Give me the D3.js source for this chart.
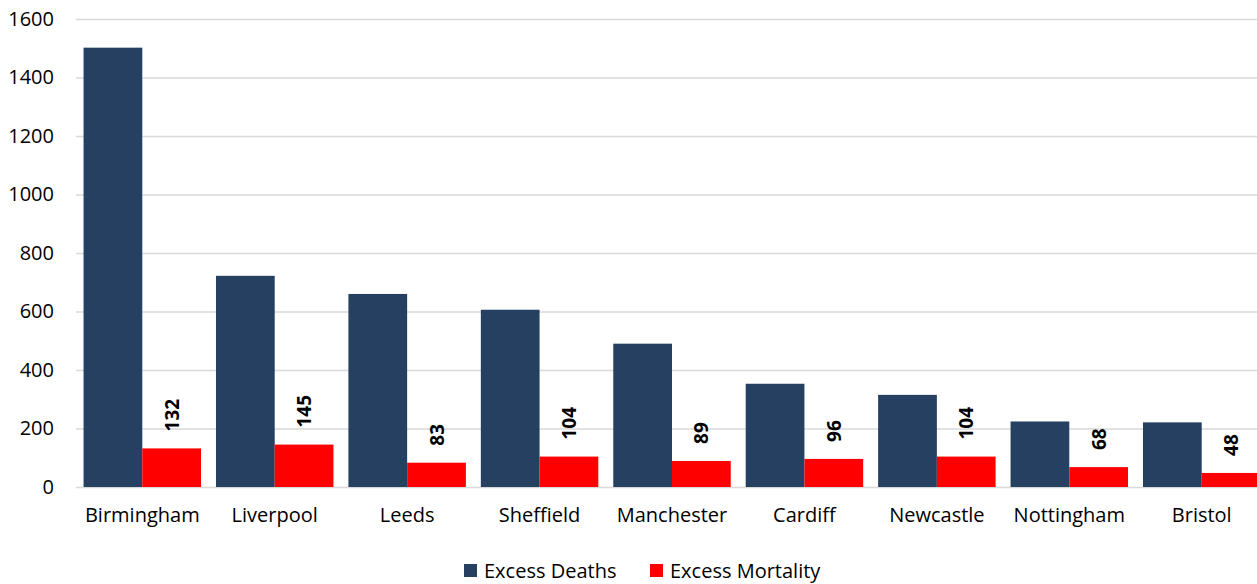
<!DOCTYPE html>
<html>
<head>
<meta charset="utf-8">
<script src="https://cdn.jsdelivr.net/npm/d3@7"></script>
<style>
  body { margin: 0; background: #fff; }
  svg text { font-family: "Open Sans", Lato, sans-serif; fill: #000; }
</style>
</head>
<body>
<div id="chart"></div>
<script>
// Data
const cities = ["Birmingham", "Liverpool", "Leeds", "Sheffield", "Manchester", "Cardiff", "Newcastle", "Nottingham", "Bristol"];
const excessDeaths = [1502, 722, 660, 606, 490, 353, 315, 224, 221];
const excessMortality = [132, 145, 83, 104, 89, 96, 104, 68, 48];
const yTicks = [0, 200, 400, 600, 800, 1000, 1200, 1400, 1600];
const seriesNames = ["Excess Deaths", "Excess Mortality"];
const seriesColors = ["#264061", "#ff0000"];

const width = 1257, height = 584;
const margin = {top: 19, right: -11, bottom: 97, left: 76};
const fontSize = "20px";

const svg = d3.select("#chart")
  .append("svg")
    .attr("width", width)
    .attr("height", height);

const xScale = d3.scaleBand()
  .domain(cities)
  .range([margin.left, width - margin.right])
  .paddingInner(0.113)
  .paddingOuter(0.057);

const sub = d3.scaleBand()
  .domain(seriesNames)
  .range([0, xScale.bandwidth()]);

const yScale = d3.scaleLinear()
  .domain([0, 1600])
  .range([height - margin.bottom, margin.top]);

// gridlines
svg.append("g")
  .selectAll("line")
  .data(yTicks)
  .join("line")
    .attr("x1", margin.left)
    .attr("x2", width)
    .attr("y1", d => yScale(d) + 0.5)
    .attr("y2", d => yScale(d) + 0.5)
    .attr("stroke", "#d9d9d9")
    .attr("stroke-width", 1.5);

// y axis labels
const yAxis = svg.append("g")
  .attr("transform", `translate(${margin.left}, 0)`)
  .call(d3.axisLeft(yScale).tickValues(yTicks).tickFormat(d3.format("d")).tickSize(0).tickPadding(22));
yAxis.select(".domain").remove();
yAxis.selectAll("text").style("font-size", fontSize).attr("fill", "#000");

const rows = cities.map((c, i) => ({city: c, vals: [excessDeaths[i], excessMortality[i]]}));

const groups = svg.append("g")
  .selectAll("g")
  .data(rows)
  .join("g")
    .attr("transform", d => `translate(${xScale(d.city)}, 0)`);

groups.selectAll("rect")
  .data(d => d.vals.map((v, j) => ({name: seriesNames[j], value: v, color: seriesColors[j]})))
  .join("rect")
    .attr("x", d => sub(d.name))
    .attr("width", sub.bandwidth())
    .attr("y", d => yScale(d.value))
    .attr("height", d => yScale(0) - yScale(d.value))
    .attr("fill", d => d.color);

// rotated value labels on the mortality bars
groups.append("text")
  .attr("transform", d => {
    const cx = sub("Excess Mortality") + sub.bandwidth() / 2;
    const y = yScale(d.vals[1]) - 17;
    return `translate(${cx + 7}, ${y}) rotate(-90)`;
  })
  .attr("text-anchor", "start")
  .style("font-size", "19px")
  .style("font-weight", "bold")
  .text(d => d.vals[1]);

// x axis labels
const xAxis = svg.append("g")
  .attr("transform", `translate(0, ${yScale(0)})`)
  .call(d3.axisBottom(xScale).tickSize(0).tickPadding(21));
xAxis.select(".domain").remove();
xAxis.selectAll("text").style("font-size", fontSize).attr("fill", "#000");

// legend
const legend = svg.append("g")
  .selectAll("g")
  .data(seriesNames)
  .join("g")
    .attr("transform", (d, i) => `translate(${[464, 650][i]}, 564)`);
legend.append("rect")
  .attr("width", 13)
  .attr("height", 13)
  .attr("fill", (d, i) => seriesColors[i]);
legend.append("text")
  .attr("x", 20)
  .attr("y", 14)
  .style("font-size", fontSize)
  .text(d => d);
</script>
</body>
</html>
